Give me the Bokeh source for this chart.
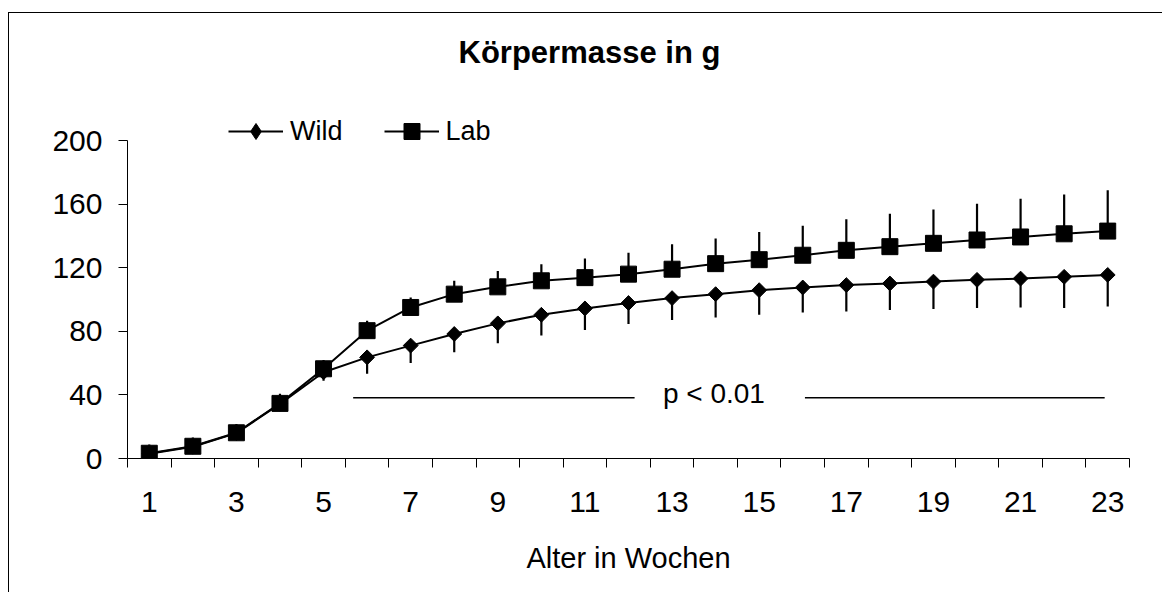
import numpy as np
from bokeh.plotting import figure
from bokeh.models import Range1d, FixedTicker, Legend, LegendItem
from bokeh.core.properties import value
from bokeh.embed import file_html
from bokeh.resources import INLINE

# ---------------- data ----------------
weeks = list(range(1, 24))
x_tick_labels = list(range(1, 24, 2))
y_ticks = [0, 40, 80, 120, 160, 200]

wild_mean = [3.0, 7.4, 16.0, 34.4, 54.3, 63.7, 71.1, 78.4, 85.1, 90.5, 94.5, 97.9,
             101.0, 103.5, 106.0, 107.7, 109.2, 110.2, 111.4, 112.5, 113.3, 114.4, 115.6]
wild_sd = [1.0, 1.5, 2.0, 3.0, 5.3, 10.4, 11.0, 11.5, 12.6, 13.1, 13.6, 13.2,
           13.8, 14.7, 15.5, 15.7, 16.6, 16.7, 17.3, 17.8, 18.2, 19.7, 19.9]
lab_mean = [3.3, 7.7, 16.2, 34.7, 56.5, 80.5, 95.1, 103.5, 108.1, 111.9, 113.9, 116.1,
            119.2, 122.7, 125.2, 128.0, 131.1, 133.4, 135.5, 137.6, 139.5, 141.5, 143.2]
lab_sd = [5.5, 5.5, 5.5, 6.0, 5.5, 6.3, 6.3, 8.4, 10.0, 10.4, 12.0, 13.5,
          15.7, 15.9, 17.4, 18.5, 19.5, 20.7, 21.3, 22.8, 24.0, 24.7, 25.7]

sig_x0 = [5.68, 16.05]
sig_x1 = [12.14, 22.93]
sig_y = 38.3
sig_label_x = 13.96
sig_label_y = 41.2
sig_label = "p < 0.01"

title_text = "Körpermasse in g"
x_title = "Alter in Wochen"

FONT = "Liberation Sans"

# ---------------- figure ----------------
# the frame reaches above the 200 line so that the legend (drawn in the frame) fits;
# the y axis itself is bounded to 0..200
p = figure(width=1154, height=580,
           x_range=Range1d(0.5, 23.5), y_range=Range1d(0, 233),
           output_backend="svg", toolbar_location=None,
           min_border_left=118, min_border_right=34,
           min_border_top=74, min_border_bottom=135,
           title=title_text,
           styles={"border-left": "1px solid #000", "border-top": "1px solid #000",
                   "position": "relative", "left": "8px", "top": "12px"})
p.outline_line_color = None
p.xgrid.visible = False
p.ygrid.visible = False
p.background_fill_color = "white"
p.border_fill_color = "white"

p.title.align = "left"
p.title.offset = 331
p.title.standoff = 38
p.title.text_font = FONT
p.title.text_font_size = "31px"
p.title.text_font_style = "bold"
p.title.text_color = "black"

# x axis: ticks between categories, labels on odd weeks
xa = p.xaxis[0]
xa.ticker = FixedTicker(ticks=x_tick_labels,
                        minor_ticks=[w - 0.5 for w in weeks] + [weeks[-1] + 0.5])
xa.major_tick_out = 0
xa.major_tick_in = 0
xa.major_tick_line_color = None
xa.minor_tick_out = 9
xa.minor_tick_in = 0
xa.minor_tick_line_color = "black"
xa.axis_line_color = "black"
xa.major_label_text_font = FONT
xa.major_label_text_font_size = "30px"
xa.major_label_text_color = "black"
xa.major_label_standoff = 24
xa.axis_label = x_title
xa.axis_label_text_font = FONT
xa.axis_label_text_font_size = "29px"
xa.axis_label_text_font_style = "normal"
xa.axis_label_text_color = "black"
xa.axis_label_standoff = 27

ya = p.yaxis[0]
ya.ticker = FixedTicker(ticks=y_ticks, minor_ticks=[])
ya.bounds = (y_ticks[0], y_ticks[-1])
ya.major_tick_out = 9
ya.major_tick_in = 0
ya.minor_tick_line_color = None
ya.axis_line_color = "black"
ya.major_tick_line_color = "black"
ya.major_label_text_font = FONT
ya.major_label_text_font_size = "30px"
ya.major_label_text_color = "black"
ya.major_label_standoff = 16

# ---------------- error bars ----------------
wild_lo = [m - s for m, s in zip(wild_mean, wild_sd)]
lab_hi = [m + s for m, s in zip(lab_mean, lab_sd)]
p.segment(x0=weeks, y0=wild_mean, x1=weeks, y1=wild_lo, line_color="black", line_width=2.2)
p.segment(x0=weeks, y0=lab_mean, x1=weeks, y1=lab_hi, line_color="black", line_width=2.2)

# ---------------- series ----------------
wl = p.line(weeks, wild_mean, line_color="black", line_width=2)
ws = p.scatter(weeks, wild_mean, marker="square", angle=np.pi / 4, size=10.5,
               fill_color="black", line_color="black")
ll = p.line(weeks, lab_mean, line_color="black", line_width=2)
ls = p.scatter(weeks, lab_mean, marker="square", size=16,
               fill_color="black", line_color="black")

# legend-only diamond swatch (legend swatches ignore marker rotation);
# its single point is NaN so nothing is drawn in the plot area
wild_key = p.scatter(x=[float("nan")], y=[float("nan")], marker="diamond", size=16,
                     fill_color="black", line_color="black")

# ---------------- significance annotation ----------------
p.segment(x0=sig_x0, y0=[sig_y] * len(sig_x0), x1=sig_x1, y1=[sig_y] * len(sig_x1),
          line_color="black", line_width=1.5)
p.text(x=[sig_label_x], y=[sig_label_y], text=[sig_label],
       text_align="center", text_baseline="middle",
       text_font=value(FONT), text_font_size="28px", text_color="black")

# ---------------- legend ----------------
legend = Legend(items=[LegendItem(label="Wild", renderers=[wl, wild_key]),
                       LegendItem(label="Lab", renderers=[ll, ls])],
                location=(101, 307), orientation="horizontal",
                glyph_width=55, glyph_height=40, label_standoff=7, spacing=41,
                padding=0, margin=0, border_line_color=None,
                background_fill_alpha=0,
                label_text_font=FONT, label_text_font_size="27px",
                label_text_color="black")
p.add_layout(legend)

open("out.html", "w").write(file_html(p, INLINE))
